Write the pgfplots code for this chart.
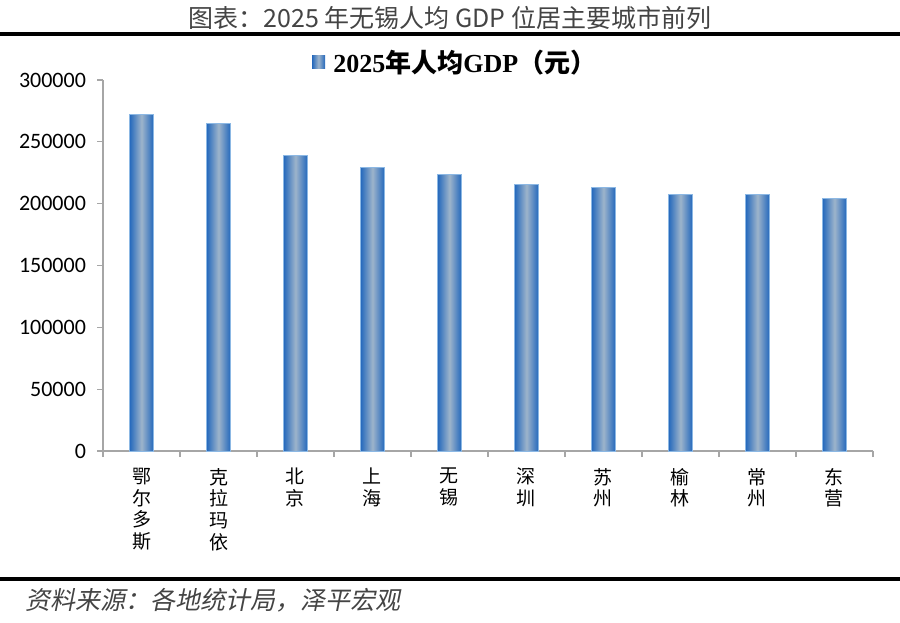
\documentclass[border=0pt]{standalone}
\usepackage{pgfplots}
\pgfplotsset{compat=1.18}
\usepackage{fontspec}
\setmainfont{Liberation Serif}
\newfontfamily\cjk{Noto Sans CJK SC}
\newfontfamily\cjksl[FakeSlant=0.2]{Noto Sans CJK SC}
\newfontfamily\carlito{Carlito}
\definecolor{barblue}{HTML}{2468BC}
\definecolor{barmid}{HTML}{9DB4CB}
\definecolor{baredge}{HTML}{8CB8E4}
\definecolor{axgray}{HTML}{A6A6A6}
\definecolor{txtgray}{HTML}{444444}
\pgfplotsset{mybar/.style={ybar, bar width=12pt, bar shift=0pt, draw=baredge, line width=0.4pt,
  left color=barblue, right color=barblue, middle color=barmid, forget plot}}
\begin{document}
\begin{tikzpicture}
\useasboundingbox (0,0) rectangle (450pt,311pt);
\node[font=\cjk\fontsize{12.5}{14}\selectfont, text=txtgray] at (225pt,301.8pt) {图表：2025 年无锡人均 GDP 位居主要城市前列};
\draw[line width=1.7pt, black] (0,294pt) -- (450pt,294pt);
\draw[line width=2.3pt, black] (0,21.5pt) -- (450pt,21.5pt);
\node[anchor=west, font=\cjksl\fontsize{12.5}{14}\selectfont, text=txtgray] at (9pt,11pt) {资料来源：各地统计局，泽平宏观};
\shade[left color=barblue,right color=barblue,middle color=barmid] (156pt,276.5pt) rectangle (162.5pt,283pt);
\node[anchor=west, inner sep=0pt, font=\fontsize{13}{14}\selectfont] at (166.5pt,279.5pt) {{\bfseries 2025}{\cjk\bfseries 年人均}{\bfseries GDP}{\cjk\bfseries （元）}};
\begin{axis}[
  at={(51.5pt,85.5pt)}, anchor=south west,
  scale only axis, width=385pt, height=185.5pt,
  xmin=-0.5, xmax=9.5, ymin=0, ymax=300000,
  axis x line*=bottom, axis y line*=left,
  axis line style={draw=axgray, line width=0.6pt},
  xtick={0,...,9},
  xticklabels={{鄂\\尔\\多\\斯},{克\\拉\\玛\\依},{北\\京},{上\\海},{无\\锡},{深\\圳},{苏\\州},{榆\\林},{常\\州},{东\\营}},
  xticklabel style={font=\cjk\fontsize{9.5}{10.9}\selectfont, align=center, text=black, anchor=north, yshift=-2pt},
  major x tick style={draw=none},
  minor xtick={-0.5,0.5,...,9.5},
  minor x tick style={draw=axgray, line width=0.6pt},
  ytick={0,50000,100000,150000,200000,250000,300000},
  yticklabels={0,50000,100000,150000,200000,250000,300000},
  y tick style={draw=axgray, line width=0.6pt},
  tick align=outside, major tick length=3pt, minor tick length=3pt,
  scaled y ticks=false,
  yticklabel style={font=\carlito\fontsize{11}{13}\selectfont, text=black, xshift=-2pt},
]
\addplot[mybar] coordinates {(0,272500)};
\addplot[mybar] coordinates {(1,265000)};
\addplot[mybar] coordinates {(2,239300)};
\addplot[mybar] coordinates {(3,229000)};
\addplot[mybar] coordinates {(4,223700)};
\addplot[mybar] coordinates {(5,215900)};
\addplot[mybar] coordinates {(6,213400)};
\addplot[mybar] coordinates {(7,207500)};
\addplot[mybar] coordinates {(8,207500)};
\addplot[mybar] coordinates {(9,204000)};
\end{axis}
\end{tikzpicture}
\end{document}
